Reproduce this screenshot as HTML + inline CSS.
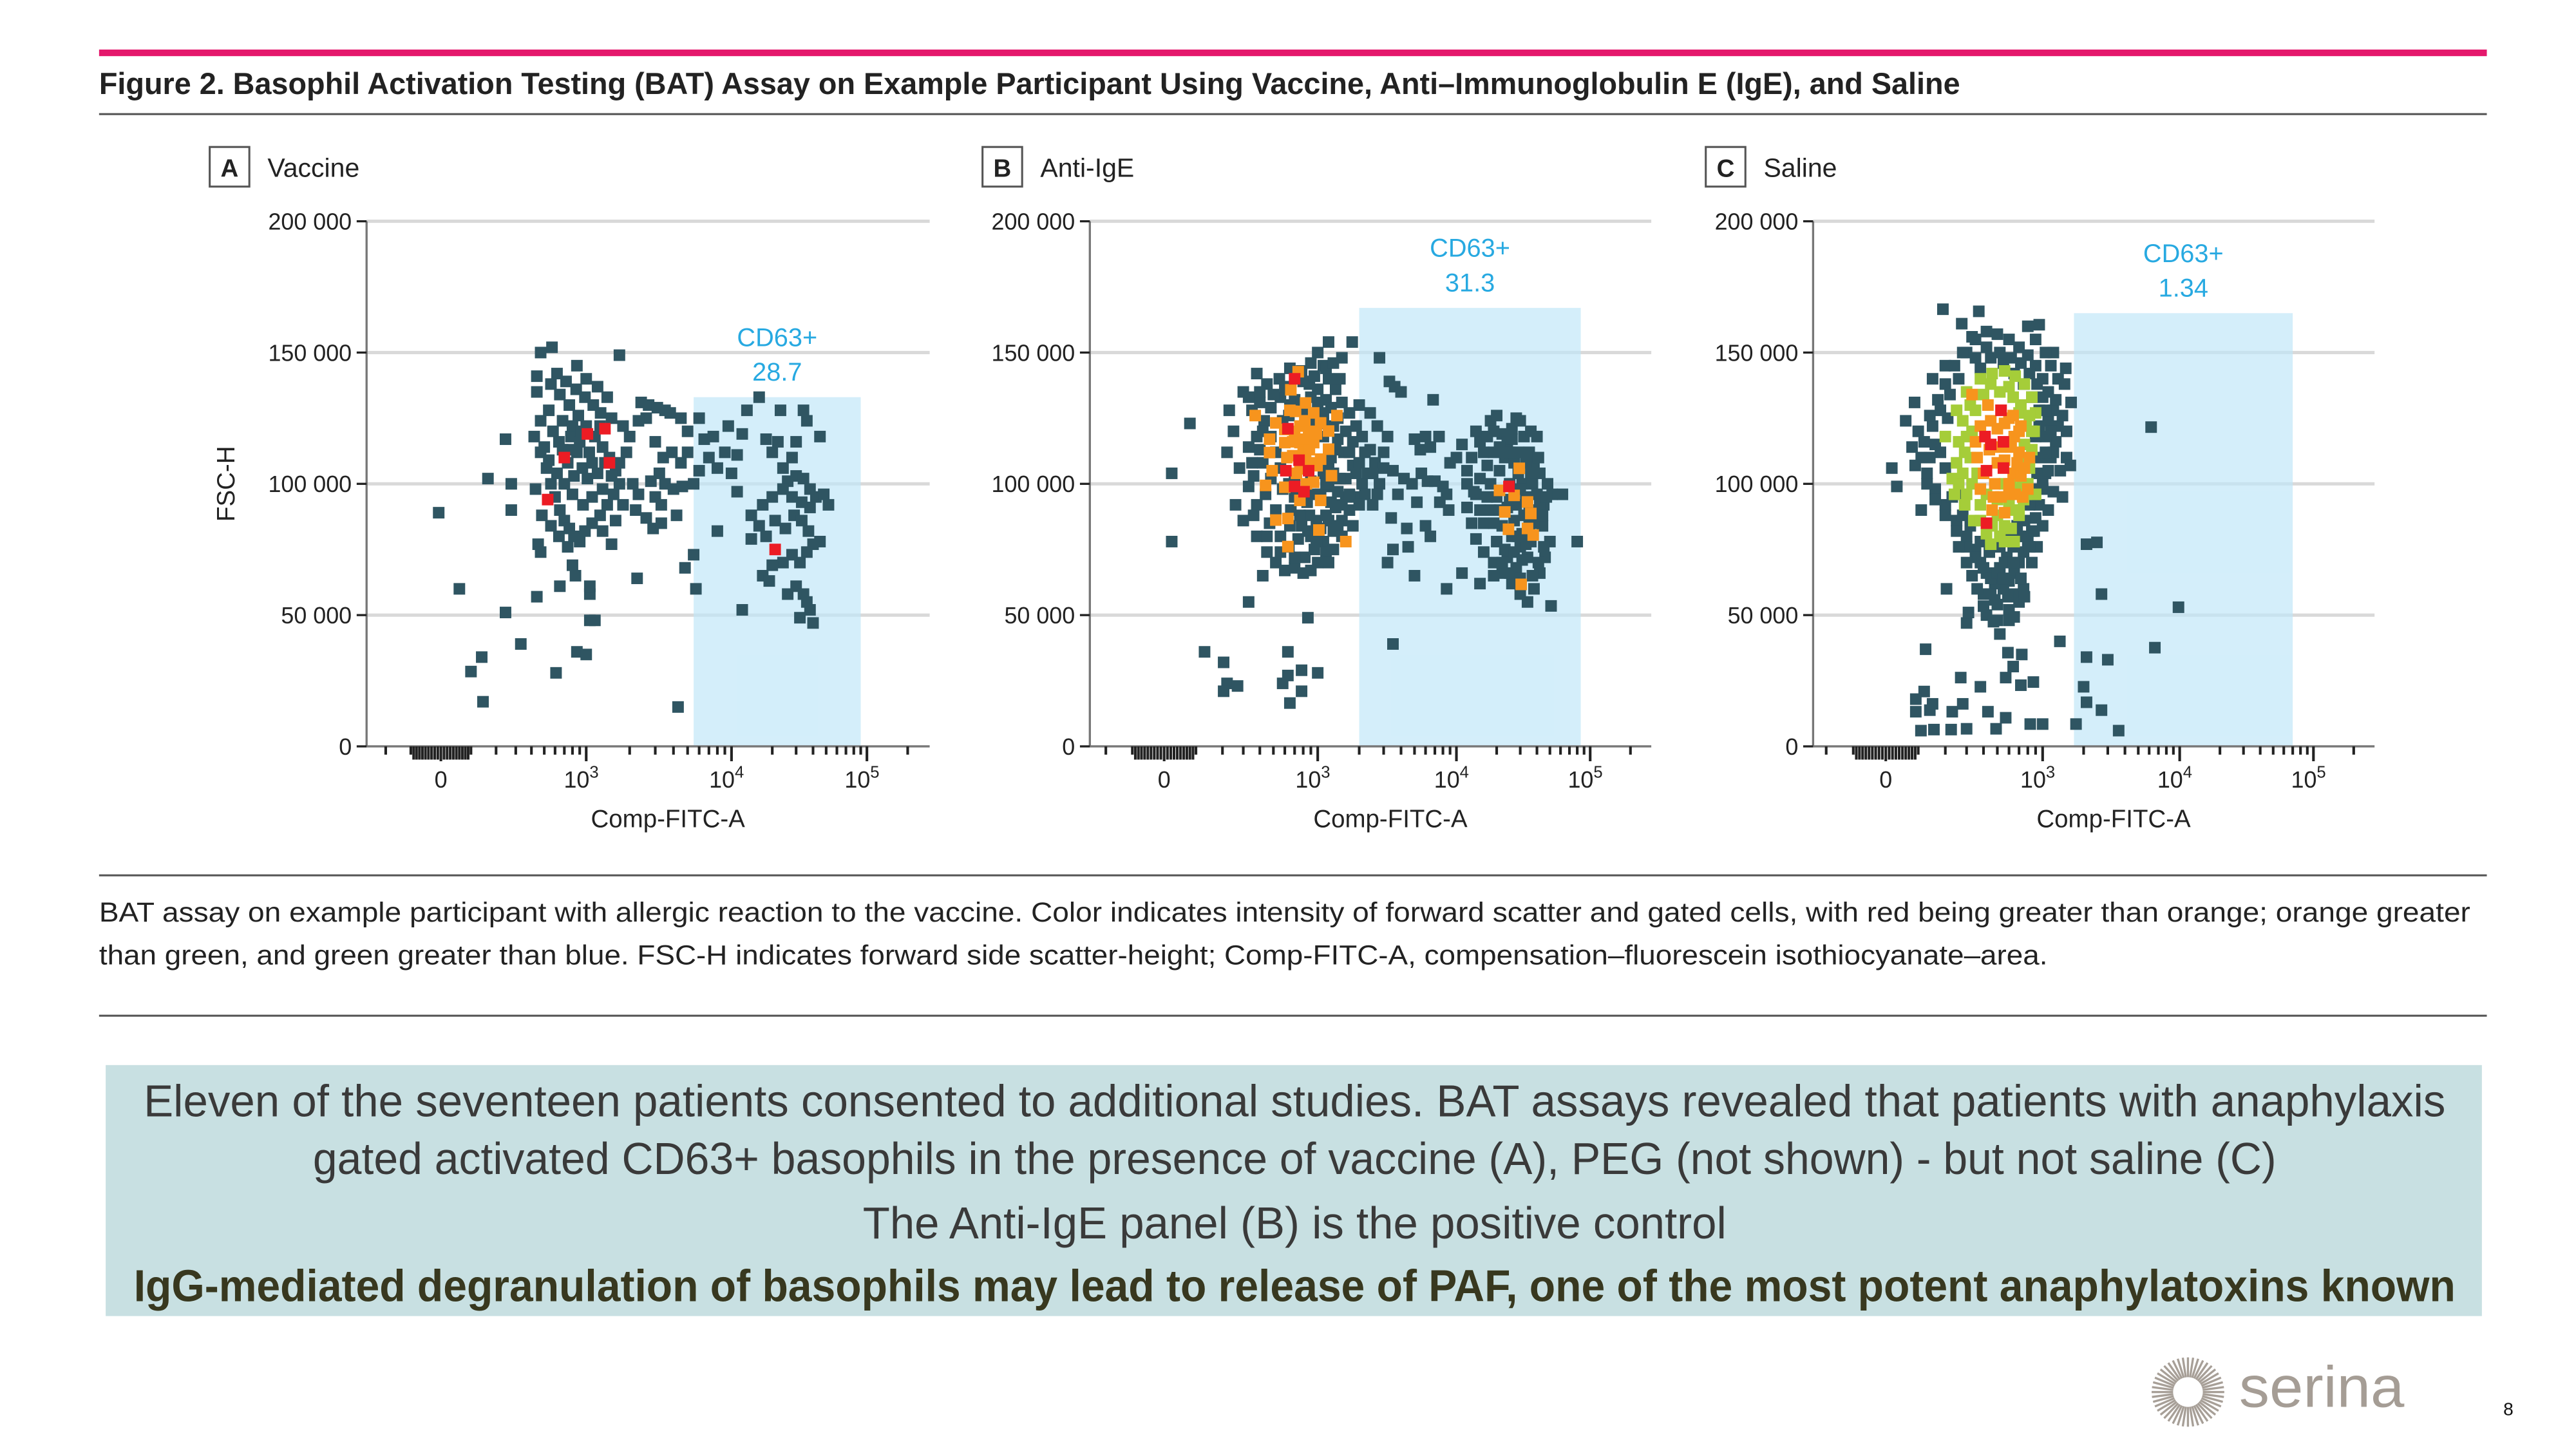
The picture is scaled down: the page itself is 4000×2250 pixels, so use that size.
<!DOCTYPE html>
<html><head><meta charset="utf-8"><style>
html,body{margin:0;padding:0;background:#fff;}
svg{display:block;}
text{font-family:"Liberation Sans",sans-serif;}
</style></head><body>
<svg id="fig" xmlns="http://www.w3.org/2000/svg" width="4000" height="2250" viewBox="0 0 1560 877.5">
<rect x="0" y="0" width="1560" height="877.5" fill="#fff"/>
<rect x="60" y="30" width="1446" height="4" fill="#e4186c"/>
<text x="60" y="57" font-size="18.5" font-weight="bold" fill="#222" textLength="1127" lengthAdjust="spacingAndGlyphs">Figure 2. Basophil Activation Testing (BAT) Assay on Example Participant Using Vaccine, Anti–Immunoglobulin E (IgE), and Saline</text>
<rect x="60" y="68.5" width="1446" height="1.2" fill="#555"/>
<g id="panels"></g>
<rect x="60" y="529.5" width="1446" height="1.2" fill="#555"/>
<text x="60" y="558" font-size="16.5" fill="#222" textLength="1436" lengthAdjust="spacingAndGlyphs">BAT assay on example participant with allergic reaction to the vaccine. Color indicates intensity of forward scatter and gated cells, with red being greater than orange; orange greater</text>
<text x="60" y="584" font-size="16.5" fill="#222" textLength="1180" lengthAdjust="spacingAndGlyphs">than green, and green greater than blue. FSC-H indicates forward side scatter-height; Comp-FITC-A, compensation–fluorescein isothiocyanate–area.</text>
<rect x="60" y="614.5" width="1446" height="1.2" fill="#555"/>
<rect x="64" y="645" width="1439" height="152" fill="#c8e0e2"/>
<text x="784" y="676" text-anchor="middle" font-size="27" fill="#3a3a3a" textLength="1394" lengthAdjust="spacingAndGlyphs">Eleven of the seventeen patients consented to additional studies. BAT assays revealed that patients with anaphylaxis</text>
<text x="784" y="711" text-anchor="middle" font-size="27" fill="#3a3a3a" textLength="1189" lengthAdjust="spacingAndGlyphs">gated activated CD63+ basophils in the presence of vaccine (A), PEG (not shown) - but not saline (C)</text>
<text x="784" y="750" text-anchor="middle" font-size="27" fill="#3a3a3a" textLength="523" lengthAdjust="spacingAndGlyphs">The Anti-IgE panel (B) is the positive control</text>
<text x="784" y="788" text-anchor="middle" font-size="27" font-weight="bold" fill="#38381f" textLength="1406" lengthAdjust="spacingAndGlyphs">IgG-mediated degranulation of basophils may lead to release of PAF, one of the most potent anaphylatoxins known</text>
<g id="logo"></g>
<text x="1356" y="852" font-size="35" fill="#a59d95" textLength="100" lengthAdjust="spacingAndGlyphs">serina</text>
<text x="1516" y="857" font-size="11" fill="#111">8</text>
</svg>
<script>
// ---------- DATA ----------
const panelLetters = ["A","B","C"];
const panelTitles = ["Vaccine","Anti-IgE","Saline"];
const gatePercents = ["28.7","31.3","1.34"];
const gateLowFitc = [5500, 2000, 1700];
const gateHighFitc = [90000, 85000, 70000];
const gateTopFsc = [133000, 167000, 165000];
const yTickValues = [0, 50000, 100000, 150000, 200000];
const yTickLabels = ["0","50 000","100 000","150 000","200 000"];
const xTickValues = [0, 1000, 10000, 100000];
const xTickBases = ["0","10","10","10"];
const xTickExps = ["","3","4","5"];

// [Comp-FITC-A, FSC-H (thousands)]
const vaccineDark = [
[420,118],[470,112],[520,106],[560,100],[600,95],[650,90],[700,86],[760,83],[820,80],[900,78],[980,82],[1100,85],[1250,88],[1400,92],[1550,96],[1700,100],[1600,105],[1450,110],[1300,114],[1150,118],[1000,122],[880,126],[760,130],[650,134],[560,138],[620,142],[720,139],[850,136],[980,133],[1120,130],[1260,127],[1500,125],[1800,122],[2000,118],[1900,112],[1700,108],[1500,103],[1300,98],[1100,95],[950,92],[800,96],[700,100],[620,104],[540,109],[500,114],[580,120],[680,124],[780,118],[860,112],[940,106],[1020,102],[1200,104],[1350,108],[1050,112],[900,116],[820,103],[740,108],[680,113],[430,98],[480,88],[560,84],[640,80],[740,76],[1300,82],[1600,86],[1800,92],[450,77],[1000,140],[1200,137],[1400,133],[860,145],[540,128],[470,124],[2100,100],[2300,96],[1500,77],
[800,122],[920,120],[1100,108],[760,113],[640,116],[1250,122],
[2400,131],[2700,130],[3100,129],[3500,128],[2600,125],[2300,124],[3000,116],[3400,110],[3900,112],[4500,108],[5000,112],[3200,104],[2800,101],[3500,100],[4000,98],[3000,95],[3300,92],[4600,99],[2600,87],[2900,83],[3300,85],[4200,88],[2200,90],[5000,120],[4500,125],[3800,127],
[6000,125],[6500,117],[7000,110],[8000,106],[9000,112],[10000,104],[11000,111],[12000,119],[13000,128],[16000,133],[18000,117],[20000,112],[22000,116],[24000,106],[26000,101],[28000,110],[30000,116],[34000,128],[36000,124],[45000,118],[30000,103],[34000,102],[38000,98],[42000,95],[48000,96],[52000,92],[45000,78],[38000,91],[33000,93],[28000,95],[24000,98],[20000,95],[17000,92],[14000,88],[16000,84],[18000,80],[21000,86],[25000,83],[29000,88],[33000,86],[37000,82],[40000,77],[36000,74],[32000,70],[28000,73],[24000,70],[20000,69],[17000,65],[19000,63],[26000,58],[30000,61],[34000,58],[36000,55],[38000,52],[32000,49],[40000,47],[12000,52],[8000,82],[14000,79],[11000,97],[7500,118],[9500,122],[23000,128],[6000,105],[5500,100],
[-7,89],[60,60],[100,28.5],[140,34],[145,17],[165,102],[245,51],[245,117],[275,100],[275,90],[330,39],[440,141],[440,135],[440,57],[470,74],[570,152],[470,150],[610,28],[650,61],[860,36],[1000,35],[840,65],[800,69],[1060,58],[1060,61],[1060,48],[1150,48],[1700,149],[2250,64],[4300,15],[4800,68],[5500,73],[5700,60]];
const vaccineGreen = [];
const vaccineOrange = [];
const vaccineRed = [[530,94],[700,110],[1020,119],[1350,121],[1450,108],[21000,75]];

const antiIgeDark = [
[300,135],[350,128],[250,120],[220,112],[280,106],[330,99],[260,92],[300,86],[380,80],[450,74],[520,70],[600,67],[700,68],[820,72],[950,75],[1100,78],[1300,82],[1500,86],[1700,90],[1900,95],[2100,100],[2300,104],[2600,108],[2400,113],[2100,118],[1900,122],[1700,127],[1500,131],[1350,136],[1200,140],[1100,145],[1000,150],[900,146],[780,143],[650,144],[550,140],[450,138],[380,142],[330,133],[400,131],[480,129],[560,133],[430,124],[380,118],[330,114],[420,108],[360,103],[440,96],[380,92],[520,90],[470,85],[560,80],[640,76],[740,79],[860,82],[980,86],[1150,88],[1250,93],[1400,97],[1600,102],[1800,107],[1550,112],[1400,117],[1300,122],[1450,140],[1150,132],[1000,136],[880,138],[700,132],[640,126],[900,123],[1100,118],[1250,110],[1100,104],[900,101],[700,103],[560,106],[700,95],[850,93],[1200,99],[1350,91],[650,84],[880,88],[1050,96],[1800,116],[2000,108],[2200,96],[2500,92],[2800,100],[3000,112],[3200,118],[2700,122],[2400,127],[1300,75],[1000,70],[800,66],[1200,154],[1780,154],[2800,148],[230,128],
[400,135],[500,134],[600,137],[800,139],[950,141],[1150,144],[1300,146],[1500,148],[420,120],[520,112],[640,100],[760,88],[900,80],[1050,83],[1200,86],[1400,84],[1600,95],[1700,112],[1600,120],[1400,125],[1250,129],[1100,127],[1000,131],[900,133],[800,128],[650,130],[580,124],[480,118],[400,113],[350,108],[480,102],[580,98],[660,90],[780,84],[980,78],[1150,74],[700,72],[560,74],[450,80],[360,88],[1300,104],[1450,102],[1500,92],[1150,100],[950,96],[1200,108],[1350,113],[1100,123],[2000,130],[2200,112],[1900,104],[1700,96],[1800,84],[1500,80],[1200,70],[900,67],[3000,106],[2700,96],[2500,104],[2000,92],
[3300,139],[3600,137],[4000,135],[6800,132],[5000,117],[6000,118],[7500,118],[5500,113],[6500,114],[3500,105],[4200,102],[4800,100],[5600,104],[6200,101],[7000,101],[8000,99],[3800,96],[5200,93],[7600,93],[8800,90],[3400,87],[4400,83],[6000,84],[3500,75],[4500,76],[6500,80],[3200,70],[5000,65],[9000,108],[8500,96],
[10000,110],[11000,115],[12000,105],[14000,120],[16000,112],[18000,124],[20000,126],[22000,119],[24000,116],[26000,121],[28000,125],[30000,124],[32000,118],[35000,112],[38000,108],[42000,104],[48000,100],[52000,96],[45000,92],[40000,88],[44000,84],[50000,78],[46000,72],[42000,66],[38000,60],[34000,55],[30000,58],[26000,62],[22000,66],[19000,70],[16000,74],[14000,79],[13000,85],[12000,91],[13500,97],[15000,102],[17000,107],[19000,112],[21000,105],[23000,110],[25000,100],[27000,108],[29000,112],[31000,100],[33000,95],[35000,90],[37000,100],[20000,95],[18000,90],[16000,85],[22000,84],[26000,80],[30000,76],[34000,72],[24000,72],[20000,78],[28000,68],[32000,88],[36000,78],[62000,96],[80000,78],[51000,53.5],[11000,66],[15000,62],[40000,118],[18000,100],[28000,92],[23000,75],
[15000,116],[17000,118],[21000,114],[25000,112],[29000,104],[33000,108],[36000,104],[40000,96],[42000,92],[38000,85],[31000,81],[27000,86],[24000,91],[19000,85],[15000,90],[14000,96],[17000,95],[21000,90],[25000,94],[30000,98],[33000,77],[27000,74],[22000,70],[19000,65],[25000,66],[30000,64],[37000,65],[41000,70],[45000,76],[44000,88],[47000,95],[41000,110],[36000,120],[26000,117],[19000,120],[13000,110],[12000,100],[31000,71],[29000,80],[35000,84],
[80,123],[23,104],[23,78],[330,55],[420,65],[860,49],[3500,39],[130,36],[205,32],[220,24],[270,23],[205,21],[630,36],[580,24],[630,27],[780,29],[1000,28],[780,21],[650,16.5],[8500,60]];
const antiIgeGreen = [];
const antiIgeOrange = [[740,142.7],[660,135.8],[370,126],[520,123.2],[830,130.8],[940,127],[710,127.6],[1380,126],[600,120.7],[1050,123.2],[1200,120.1],[470,117],[470,111.9],[600,115.7],[760,115.7],[940,115.7],[1200,113.2],[680,110.7],[830,110.7],[1050,109.4],[990,106.9],[490,105],[780,105.7],[1260,103.1],[440,99.4],[600,98.7],[940,100.6],[760,93.7],[1050,93.7],[520,86.2],[630,86.8],[1020,82.4],[630,76.1],[1600,78],[800,112],[870,118],[700,120],[900,108],
[760,122],[820,124],[880,113],[760,108],[680,116],[620,110],[720,104],[840,100],[900,120],[980,119],[650,128],[800,117],
[29500,105.9],[21000,97.5],[27000,95.6],[34000,93.1],[36000,88.7],[23000,89.3],[24500,82.7],[34000,83],[37500,80.5],[30500,61.7]];
const antiIgeRed = [[700,140],[630,121],[750,109],[610,105],[870,105],[700,99],[810,97],[24700,99]];

const salineDark = [
[300,150],[350,155],[420,158],[500,157],[600,155],[700,152],[800,149],[900,145],[1000,140],[1100,135],[1200,128],[1300,122],[1250,116],[1150,110],[1050,104],[1000,98],[950,92],[900,87],[850,82],[800,78],[750,74],[700,70],[650,66],[600,63],[550,60],[480,62],[420,66],[380,70],[350,75],[300,80],[250,86],[200,92],[160,98],[130,104],[110,110],[120,116],[150,122],[180,128],[220,134],[260,140],[240,145],[200,138],[170,132],[140,126],[100,120],[80,114],[90,107],[130,100],[160,94],[200,88],[250,82],[300,76],[350,72],[400,68],[450,64],[520,68],[580,72],[640,76],[700,80],[760,86],[820,92],[870,98],[920,104],[980,110],[1050,118],[1100,124],[950,128],[850,133],[750,138],[650,142],[550,146],[450,148],[380,144],[1300,140],[1450,138],[1400,126],[1500,110],[1350,105],[1200,97],[1100,90],[1000,84],[920,76],[500,54],[600,52],[400,58],[750,60],[850,70],[330,65],[270,96],[110,90],[60,124],[88,131],[18,106],[33,99],[950,160.6],[190,166.5],[370,165.7],[275,161],[330,156],[1480,144],[1620,131],[1600,107],[1200,150],[1500,120],[1400,95],[800,160],
[150,140],[200,145],[280,150],[350,148],[420,152],[520,150],[620,148],[720,146],[820,142],[920,138],[1000,133],[1050,128],[1150,120],[1200,112],[1100,105],[1000,100],[950,110],[1050,112],[900,118],[950,122],[180,112],[200,106],[230,95],[280,88],[320,84],[380,78],[440,74],[520,76],[600,80],[680,84],[760,80],[820,76],[880,82],[560,70],[640,70],[500,66],[720,64],[450,58],[550,64],[650,58],[700,55],[600,48],[500,48],[420,50],[360,60],[300,70],[260,76],[1250,132],[1150,145],[1050,150],[900,155],[160,115],[140,110],[210,125],
[109,6],[155,6.4],[225,6.4],[300,6.7],[490,6.7],[830,8.5],[1000,8.5],[570,10.9],[430,13.2],[230,13.2],[280,16.2],[380,22.7],[270,26.2],[120,20.9],[92,18],[92,13.2],[140,13.8],[150,16.2],[720,23.3],[870,24.5],[570,26.2],[640,30.4],[730,35],[590,35.7],[520,42.8],[470,47.5],[300,47],[310,51],[650,49.3],[760,57],[205,60],[400,53.4],[480,55.8],[590,57],[125,37],[1340,40],
[6200,121.6],[9800,53],[2700,58],[2500,77.7],[2100,77],[6600,37.6],[2000,22.7],[2100,16.8],[2700,13.8],[1760,8.5],[3600,6],[2100,34],[3000,33]];
const salineGreen = [[300,135],[380,140],[460,142],[560,143],[660,141],[760,138],[850,133],[900,127],[880,120],[850,113],[820,106],[800,100],[750,94],[700,88],[620,83],[520,80],[420,81],[340,86],[290,92],[260,100],[250,108],[260,116],[280,124],[320,130],[400,134],[600,137],[720,130],[780,122],[760,115],[700,98],[600,92],[500,88],[380,92],[330,100],[320,110],[330,120],[200,118],[230,102],[900,96],[650,78],
[350,128],[450,138],[520,135],[640,133],[700,127],[820,126],[850,120],[780,108],[740,100],[660,90],[560,84],[460,84],[380,86],[300,96],[280,104],[290,112],[300,118],[420,96],[360,104],[500,94],[620,100],[560,100],[700,90],[780,96],[240,96],[250,128],[560,78],[450,77]];
const salineOrange = [[330,134],[430,130],[600,125],[720,122],[380,122],[500,121],[650,118],[700,112],[440,113],[360,110],[560,109],[640,104],[720,103],[800,98],[480,100],[380,98],[600,96],[740,95],[460,90],[560,89],[680,108],[400,104],[520,114],[820,110],[530,128],
[450,124],[560,123],[620,114],[500,108],[600,100],[660,96],[470,95],[530,95],[350,116],[640,126],[760,106],[700,120]];
const salineRed = [[530,128],[410,118],[450,115],[550,116],[420,105],[550,106],[420,85]];

const darkSeries = [vaccineDark, antiIgeDark, salineDark];
const greenSeries = [vaccineGreen, antiIgeGreen, salineGreen];
const orangeSeries = [vaccineOrange, antiIgeOrange, salineOrange];
const redSeries = [vaccineRed, antiIgeRed, salineRed];

// ---------- LAYOUT ----------
const NS = "http://www.w3.org/2000/svg";
const layout = [
  {box:127, left:222, right:563, ticksPx:[267,355,443,525], ylab:213},
  {box:595, left:660, right:1000, ticksPx:[705,798,882,963], ylab:651},
  {box:1033, left:1098, right:1438, ticksPx:[1142,1237,1320,1401], ylab:1089}
];
const yTop = 134, yBot = 452;
const colors = {dark:"#2f5562", green:"#a5cd39", orange:"#f7941d", red:"#ec1c24"};

function el(tag, attrs, parent){
  const e = document.createElementNS(NS, tag);
  for (const k in attrs) e.setAttribute(k, attrs[k]);
  parent.appendChild(e);
  return e;
}
function decade(v){ return Math.asinh(v/202)/Math.LN10; }
function makeX(L){
  const d = xTickValues.map(decade);
  const p = L.ticksPx;
  return function(v){
    const t = decade(v);
    let i = 0;
    if (t >= d[2]) i = 2; else if (t >= d[1]) i = 1; else i = 0;
    return p[i] + (t - d[i]) * (p[i+1] - p[i]) / (d[i+1] - d[i]);
  };
}
function yScale(v){ return yBot - v * (yBot - yTop) / 200000; }

const root = document.getElementById("panels");
layout.forEach((L, pi) => {
  const g = el("g", {}, root);
  
  
  const xs = makeX(L);

  const b = el("rect", {x:L.box, y:89, width:24, height:24, fill:"#fff", stroke:"#555", "stroke-width":1.2}, g);
  
  
  const lt = el("text", {x:L.box+12, y:107, "text-anchor":"middle", "font-size":15, "font-weight":"bold", fill:"#222"}, g);
  lt.textContent = panelLetters[pi];
  
  
  const tt = el("text", {x:L.box+35, y:107, "font-size":16, fill:"#222"}, g);
  tt.textContent = panelTitles[pi];
  
  

  yTickValues.forEach((v, i) => {
    if (v > 0) {
      const gl = el("line", {x1:L.left, x2:L.right, y1:yScale(v), y2:yScale(v), stroke:"#d9d9d9", "stroke-width":2}, g);
      
      
    }
  });

  const gx1 = xs(gateLowFitc[pi]), gx2 = xs(gateHighFitc[pi]), gy = yScale(gateTopFsc[pi]);
  const gate = el("rect", {x:gx1, y:gy, width:gx2-gx1, height:yBot-gy, fill:"#bfe6f8", "fill-opacity":0.68}, g);
  
  
  const gl1 = el("text", {x:(gx1+gx2)/2, y:gy-31, "text-anchor":"middle", "font-size":15.5, fill:"#27a9e1"}, g);
  gl1.textContent = "CD63+";
  
  
  const gl2 = el("text", {x:(gx1+gx2)/2, y:gy-10, "text-anchor":"middle", "font-size":15.5, fill:"#27a9e1"}, g);
  gl2.textContent = gatePercents[pi];
  
  

  const S = 7.0;
  [[darkSeries[pi],colors.dark,'cell-blue'],[greenSeries[pi],colors.green,'cell-green'],[orangeSeries[pi],colors.orange,'cell-orange'],[redSeries[pi],colors.red,'cell-red']].forEach(([arr,col,nm]) => {
    arr.forEach(pt => {
      const r = el("rect", {x:xs(pt[0])-S/2, y:yScale(pt[1]*1000)-S/2, width:S, height:S, fill:col}, g);
      
      
    });
  });

  const ya = el("line", {x1:L.left, x2:L.left, y1:yTop, y2:yBot, stroke:"#777", "stroke-width":1.3}, g);
  
  
  const xa = el("line", {x1:L.left, x2:L.right, y1:yBot, y2:yBot, stroke:"#777", "stroke-width":1.3}, g);
  
  

  yTickValues.forEach((v, i) => {
    const tk = el("line", {x1:L.left-6, x2:L.left, y1:yScale(v), y2:yScale(v), stroke:"#222", "stroke-width":1.3}, g);
    
    
    const tl = el("text", {x:L.ylab, y:yScale(v)+5, "text-anchor":"end", "font-size":14, fill:"#222"}, g);
    tl.textContent = yTickLabels[i];
    
    
  });

  const minors = [];
  for (let m = 10; m <= 90; m += 10) { minors.push(m); minors.push(-m); }
  for (let m = 100; m <= 900; m += 100) { minors.push(m); if (m <= 300) minors.push(-m); }
  for (let m = 2000; m <= 9000; m += 1000) minors.push(m);
  for (let m = 20000; m <= 90000; m += 10000) minors.push(m);
  minors.push(200000);
  minors.forEach(v => {
    const px = xs(v);
    if (px < L.left+2 || px > L.right) return;
    const len = (Math.abs(v) < 100) ? 8 : 5;
    const mt = el("line", {x1:px, x2:px, y1:yBot, y2:yBot+len, stroke:"#222", "stroke-width":1.6}, g);
    
    
  });
  xTickValues.forEach((v, i) => {
    const px = xs(v);
    const mk = el("line", {x1:px, x2:px, y1:yBot, y2:yBot+9, stroke:"#222", "stroke-width":1.6}, g);
    
    
    const tl = el("text", {x:px-(i?3:0), y:477, "text-anchor":"middle", "font-size":14, fill:"#222"}, g);
    
    
    tl.appendChild(document.createTextNode(xTickBases[i]));
    if (xTickExps[i]) {
      const sp = el("tspan", {dy:-6, "font-size":10}, tl);
      sp.textContent = xTickExps[i];
    }
  });

  const xl = el("text", {x:(L.left+L.right)/2+12, y:501, "text-anchor":"middle", "font-size":15, fill:"#222"}, g);
  xl.textContent = "Comp-FITC-A";
  
  
  if (pi === 0) {
    const yl = el("text", {x:0, y:0, transform:"translate(142,293) rotate(-90)", "text-anchor":"middle", "font-size":15, fill:"#222"}, g);
    yl.textContent = "FSC-H";
    
    
  }
});

const logo = document.getElementById("logo");
for (let i = 0; i < 44; i++) {
  const a = i * Math.PI * 2 / 44;
  const ray = el("line", {x1:1325+9*Math.cos(a), y1:843+9*Math.sin(a), x2:1325+22*Math.cos(a), y2:843+21*Math.sin(a), stroke:"#a79f97", "stroke-width":1.3}, logo);
  
  
}
</script>
</body></html>
